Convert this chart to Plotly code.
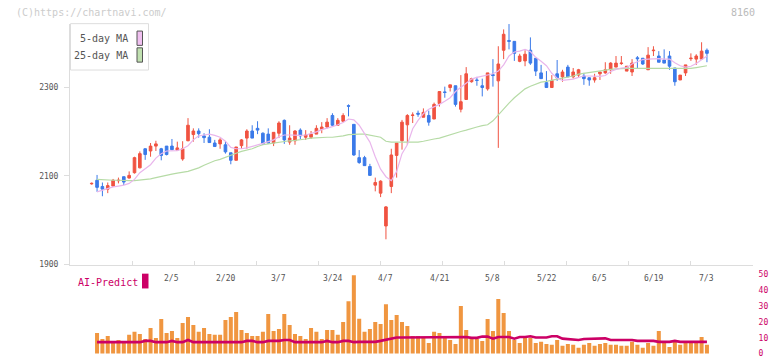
import plotly.graph_objects as go

# ---------------- data ----------------
tick_labels = ['2/5', '2/20', '3/7', '3/24', '4/7', '4/21', '5/8', '5/22', '6/5', '6/19', '7/3']
tick_index = [15, 25, 35, 45, 55, 65, 75, 85, 95, 105, 115]

open_ = [2082, 2090, 2076, 2070, 2077, 2089, 2098, 2095, 2107, 2118,
         2161, 2156, 2167, 2161, 2167, 2167, 2158, 2138, 2179, 2193,
         2201, 2190, 2187, 2174, 2172, 2170, 2152, 2135, 2168, 2185,
         2201, 2207, 2196, 2194, 2174, 2196, 2225, 2176, 2179, 2203,
         2187, 2187, 2194, 2205, 2210, 2236, 2214, 2223, 2258, 2216,
         2141, 2141, 2121, 2079, 2061, 1987, 2076, 2146, 2179, 2215,
         2236, 2241, 2232, 2236, 2228, 2263, 2289, 2299, 2303, 2250,
         2272, 2312, 2316, 2303, 2296, 2328, 2314, 2383, 2405, 2403,
         2358, 2359, 2383, 2365, 2332, 2310, 2299, 2330, 2323, 2345,
         2323, 2327, 2325, 2321, 2316, 2330, 2332, 2339, 2345, 2353,
         2336, 2334, 2366, 2365, 2339, 2382, 2370, 2361, 2370, 2343,
         2316, 2332, 2364, 2363, 2363, 2383]
high = [2085, 2102, 2085, 2085, 2093, 2096, 2098, 2110, 2143, 2155,
        2162, 2174, 2179, 2163, 2167, 2183, 2177, 2178, 2230, 2207,
        2207, 2196, 2205, 2181, 2185, 2178, 2152, 2165, 2183, 2205,
        2214, 2223, 2198, 2207, 2198, 2223, 2227, 2214, 2203, 2207,
        2203, 2201, 2214, 2221, 2230, 2241, 2230, 2241, 2261, 2216,
        2158, 2145, 2127, 2096, 2090, 2032, 2161, 2174, 2226, 2239,
        2243, 2247, 2252, 2247, 2265, 2290, 2301, 2305, 2303, 2327,
        2345, 2321, 2323, 2319, 2332, 2363, 2392, 2430, 2442, 2403,
        2375, 2383, 2412, 2365, 2350, 2336, 2327, 2361, 2339, 2350,
        2343, 2341, 2332, 2321, 2330, 2334, 2356, 2356, 2370, 2370,
        2347, 2363, 2370, 2365, 2390, 2392, 2381, 2385, 2381, 2343,
        2327, 2350, 2376, 2374, 2401, 2387]
low = [2080, 2064, 2054, 2061, 2075, 2083, 2079, 2094, 2105, 2117,
       2136, 2143, 2156, 2135, 2146, 2159, 2157, 2134, 2178, 2177,
       2186, 2174, 2174, 2166, 2161, 2150, 2126, 2135, 2161, 2161,
       2185, 2194, 2170, 2172, 2167, 2185, 2172, 2170, 2170, 2183,
       2181, 2183, 2194, 2196, 2207, 2212, 2214, 2221, 2234, 2145,
       2127, 2123, 2101, 2065, 2052, 1957, 2061, 2096, 2159, 2170,
       2219, 2233, 2232, 2213, 2228, 2256, 2276, 2290, 2256, 2243,
       2272, 2310, 2303, 2279, 2292, 2301, 2163, 2363, 2385, 2359,
       2356, 2347, 2350, 2325, 2319, 2299, 2299, 2314, 2312, 2323,
       2319, 2321, 2305, 2303, 2310, 2316, 2330, 2330, 2345, 2350,
       2336, 2325, 2341, 2350, 2339, 2370, 2356, 2354, 2339, 2303,
       2316, 2325, 2359, 2350, 2363, 2356]
close = [2083, 2074, 2070, 2078, 2090, 2090, 2086, 2101, 2141, 2150,
         2148, 2167, 2172, 2146, 2148, 2159, 2163, 2161, 2214, 2201,
         2195, 2186, 2175, 2166, 2181, 2154, 2135, 2165, 2181, 2201,
         2185, 2203, 2172, 2174, 2198, 2219, 2181, 2185, 2201, 2190,
         2192, 2194, 2207, 2210, 2221, 2214, 2225, 2236, 2257, 2147,
         2130, 2123, 2101, 2085, 2088, 2030, 2147, 2174, 2221, 2236,
         2237, 2239, 2243, 2221, 2261, 2290, 2288, 2305, 2261, 2267,
         2330, 2319, 2315, 2299, 2332, 2326, 2352, 2419, 2403, 2376,
         2370, 2374, 2354, 2336, 2319, 2299, 2315, 2321, 2334, 2323,
         2334, 2339, 2319, 2316, 2321, 2334, 2339, 2354, 2354, 2354,
         2347, 2354, 2364, 2352, 2372, 2383, 2356, 2354, 2347, 2312,
         2327, 2350, 2365, 2370, 2381, 2376]

ma5 = [None, 2064, 2068, 2071, 2075, 2077, 2079, 2083, 2092, 2107,
       2117, 2125, 2140, 2150, 2156, 2157, 2157, 2161, 2168, 2181,
       2190, 2192, 2194, 2191, 2187, 2178, 2164, 2161, 2161, 2163,
       2166, 2169, 2173, 2177, 2181, 2188, 2192, 2192, 2191, 2191,
       2192, 2195, 2199, 2204, 2207, 2211, 2215, 2220, 2228, 2226,
       2214, 2196, 2176, 2143, 2115, 2098, 2089, 2110, 2150, 2170,
       2206, 2225, 2240, 2250, 2255, 2261, 2268, 2276, 2290, 2300,
       2310, 2318, 2322, 2325, 2327, 2330, 2336, 2350, 2370, 2379,
       2381, 2385, 2380, 2367, 2358, 2348, 2331, 2320, 2315, 2316,
       2318, 2322, 2325, 2325, 2324, 2324, 2326, 2335, 2340, 2343,
       2344, 2352, 2357, 2362, 2363, 2364, 2364, 2363, 2363, 2355,
       2348, 2345, 2347, 2353, 2362, 2370]
ma25 = [None, 2092, 2091, 2091, 2090, 2090, 2089, 2089, 2089, 2090,
        2091, 2093, 2096, 2099, 2102, 2104, 2106, 2108, 2110, 2114,
        2118, 2124, 2129, 2134, 2137, 2142, 2147, 2151, 2155, 2158,
        2161, 2166, 2170, 2172, 2174, 2176, 2178, 2179, 2180, 2181,
        2183, 2185, 2186, 2187, 2187, 2187, 2188, 2190, 2193, 2194,
        2194, 2194, 2192, 2190, 2187, 2178, 2176, 2176, 2176, 2176,
        2176, 2176, 2178, 2181, 2183, 2185, 2189, 2192, 2196, 2200,
        2203, 2207, 2210, 2213, 2215, 2224, 2238, 2252, 2264, 2276,
        2286, 2296, 2302, 2307, 2311, 2313, 2316, 2318, 2320, 2322,
        2325, 2329, 2331, 2333, 2335, 2337, 2339, 2340, 2341, 2342,
        2342, 2342, 2342, 2342, 2342, 2342, 2342, 2341, 2341, 2341,
        2341, 2341, 2342, 2344, 2346, 2348]

volume = [None, 13.0, 9.2, 11.1, 7.4, 8.6, 7.4, 11.8, 13.7, 12.4,
          9.2, 16.2, 9.9, 21.8, 13.0, 14.3, 9.9, 19.3, 23.1, 18.1,
          13.7, 16.2, 12.4, 11.8, 11.8, 21.2, 23.1, 26.2, 14.9, 13.0,
          11.1, 11.1, 13.7, 25.0, 14.3, 15.5, 25.0, 18.1, 12.4, 11.1,
          9.2, 16.2, 13.7, 9.2, 14.9, 14.9, 11.8, 19.9, 33.1, 49.5,
          22.0, 13.7, 15.5, 19.9, 18.6, 31.2, 21.2, 24.4, 19.9, 17.4,
          11.1, 11.1, 9.9, 6.7, 13.7, 13.0, 9.9, 8.6, 6.1, 30.0,
          14.9, 10.5, 9.2, 8.0, 21.8, 14.3, 34.4, 25.6, 14.3, 8.6,
          6.7, 10.5, 9.9, 6.7, 7.4, 6.1, 5.5, 8.6, 4.9, 6.1,
          5.5, 3.6, 5.5, 6.7, 4.9, 6.1, 6.7, 5.5, 5.5, 4.9,
          4.9, 7.4, 5.5, 3.6, 6.7, 4.9, 14.3, 7.4, 4.2, 8.6,
          5.5, 6.7, 6.7, 6.7, 10.5, 5.5]
ai_predict = [None, 7.2, 7.2, 7.2, 7.2, 7.2, 7.2, 7.2, 7.2, 7.2,
              8.0, 8.0, 7.2, 7.2, 7.2, 8.0, 7.2, 7.2, 8.6, 7.2,
              7.2, 7.2, 7.2, 7.2, 7.2, 7.2, 7.2, 7.2, 7.2, 8.0,
              8.0, 7.2, 7.2, 8.0, 8.0, 8.0, 8.6, 8.6, 7.2, 7.2,
              7.2, 7.2, 7.2, 7.2, 8.0, 7.2, 7.2, 8.0, 8.0, 7.2,
              7.4, 7.4, 7.4, 7.4, 8.0, 8.6, 9.4, 10.1, 10.1, 10.1,
              10.1, 10.1, 10.1, 10.1, 10.1, 10.1, 10.5, 10.5, 10.5, 10.5,
              10.5, 9.9, 9.9, 10.7, 10.7, 9.4, 10.5, 10.5, 10.5, 9.4,
              10.5, 10.5, 10.9, 10.1, 10.1, 10.1, 10.9, 10.9, 9.4, 9.0,
              8.6, 8.6, 9.2, 9.2, 9.6, 9.6, 9.6, 8.6, 8.6, 8.6,
              8.6, 8.6, 8.0, 8.0, 8.0, 8.0, 7.4, 7.4, 7.4, 8.0,
              7.4, 7.4, 7.4, 7.4, 7.4, 7.4]

y_ticks_ai = [0, 10, 20, 30, 40, 50]

# ---------------- styling / geometry ----------------
W, H = 772, 361
L, R = 70, 19
FONT = "DejaVu Sans Mono"
RED, BLUE = "#F05341", "#3B7AE9"
PINK, GREEN = "#E9B6EC", "#B6DBA6"
ORANGE, MAGENTA = "#F09640", "#CC0066"

px_per_day = 5.35
first_px = 91.7
x_lo = -(first_px - L) / px_per_day
x_hi = x_lo + (W - L - R) / px_per_day

def pxx(p):
    return (p - L) / (W - L - R)

def pxy(p):
    return (H - p) / H

idx = list(range(len(close)))

# evenly spaced tick marks along the bottom axis (11 segments)
seg = (752.7 - 71.0) / 11
grid_ticks = [(71.0 + k * seg - first_px) / px_per_day for k in range(12)]

fig = go.Figure()

fig.add_trace(go.Scatter(x=idx, y=ma25, mode='lines', line=dict(color=GREEN, width=1.2),
                         xaxis='x', yaxis='y', showlegend=False, hoverinfo='skip'))
fig.add_trace(go.Scatter(x=idx, y=ma5, mode='lines', line=dict(color=PINK, width=1.2),
                         xaxis='x', yaxis='y', showlegend=False, hoverinfo='skip'))
fig.add_trace(go.Candlestick(
    x=idx, open=open_, high=high, low=low, close=close,
    increasing=dict(line=dict(color=RED, width=1), fillcolor=RED),
    decreasing=dict(line=dict(color=BLUE, width=1), fillcolor=BLUE),
    whiskerwidth=0, xaxis='x', yaxis='y', showlegend=False))

fig.add_trace(go.Bar(x=idx, y=volume, width=0.75, marker=dict(color=ORANGE, line=dict(width=0)),
                     xaxis='x2', yaxis='y2', showlegend=False))
fig.add_trace(go.Scatter(x=idx, y=ai_predict, mode='lines', line=dict(color=MAGENTA, width=2.6),
                         xaxis='x2', yaxis='y2', showlegend=False))

main_bottom, main_top = 268.3, 24.0
y_lo = 1900
y_hi = 1900 + (main_bottom - main_top) * (200 / 90.0)

sub_top = 273.0
zero_px = 358.5
per_unit = (358.5 - 278.3) / 50
y2_lo = -(H - zero_px) / per_unit
y2_hi = (zero_px - sub_top) / per_unit

fig.update_layout(
    width=W, height=H,
    margin=dict(l=L, r=R, t=0, b=0, pad=0),
    paper_bgcolor='white', plot_bgcolor='white',
    showlegend=False,
    xaxis=dict(domain=[0, 1], range=[x_lo, x_hi], anchor='y',
               showline=True, linecolor='#dddddd', linewidth=1,
               ticks='inside', ticklen=4, tickcolor='#dddddd', tickwidth=1,
               tickvals=grid_ticks, showticklabels=False,
               showgrid=False, zeroline=False, rangeslider=dict(visible=False)),
    yaxis=dict(domain=[pxy(main_bottom), pxy(main_top)], range=[y_lo, y_hi], anchor='x',
               showline=True, linecolor='#dddddd', linewidth=1,
               ticks='outside', ticklen=5, tickcolor='#dddddd',
               tick0=1900, dtick=200, showgrid=False, zeroline=False,
               ticklabelstandoff=4,
               tickfont=dict(family=FONT, size=8, color='#555555')),
    xaxis2=dict(domain=[0, 1], range=[x_lo, x_hi], anchor='y2', visible=False),
    yaxis2=dict(domain=[0, pxy(sub_top)], range=[y2_lo, y2_hi], anchor='x2', side='right',
                tickvals=y_ticks_ai, showline=False, showgrid=False, zeroline=False,
                ticks='outside', ticklen=3, tickcolor='rgba(0,0,0,0)',
                tickfont=dict(family=FONT, size=8, color=MAGENTA)),
)

ann = []
for lab, i in zip(tick_labels, tick_index):
    ann.append(dict(x=i, y=pxy(282), xref='x', yref='paper', text=lab, showarrow=False,
                    xanchor='center', yanchor='middle',
                    font=dict(family=FONT, size=8, color='#555555')))
ann.append(dict(x=pxx(14), y=pxy(12.5), xref='paper', yref='paper', text='(C)https://chartnavi.com/',
                showarrow=False, xanchor='left', yanchor='middle',
                font=dict(family=FONT, size=10, color='#cccccc')))
ann.append(dict(x=pxx(757), y=pxy(12.5), xref='paper', yref='paper', text='8160',
                showarrow=False, xanchor='right', yanchor='middle',
                font=dict(family=FONT, size=10, color='#bbbbbb')))
ann.append(dict(x=pxx(129.5), y=pxy(39.5), xref='paper', yref='paper', text='5-day MA',
                showarrow=False, xanchor='right', yanchor='middle',
                font=dict(family=FONT, size=10, color='#555555')))
ann.append(dict(x=pxx(129.5), y=pxy(56.5), xref='paper', yref='paper', text='25-day MA',
                showarrow=False, xanchor='right', yanchor='middle',
                font=dict(family=FONT, size=10, color='#555555')))
ann.append(dict(x=pxx(76), y=pxy(286), xref='paper', yref='paper', text='AI-Predict',
                showarrow=False, xanchor='left', yanchor='middle',
                font=dict(family=FONT, size=10, color=MAGENTA)))

shapes = [
    dict(type='rect', xref='paper', yref='paper', x0=pxx(70.5), x1=pxx(148.5), y0=pxy(71), y1=pxy(24),
         line=dict(color='#dddddd', width=1), fillcolor='white', layer='below'),
    dict(type='rect', xref='paper', yref='paper', x0=pxx(137), x1=pxx(142.5), y0=pxy(46), y1=pxy(31.5),
         line=dict(color='#555555', width=1), fillcolor='#F0C0F0'),
    dict(type='rect', xref='paper', yref='paper', x0=pxx(137), x1=pxx(142.5), y0=pxy(63), y1=pxy(48.5),
         line=dict(color='#555555', width=1), fillcolor='#C0E0B0'),
    dict(type='rect', xref='paper', yref='paper', x0=pxx(142), x1=pxx(148.5), y0=pxy(292.5), y1=pxy(277.5),
         line=dict(width=0), fillcolor=MAGENTA),
]

fig.update_layout(annotations=ann, shapes=shapes)
fig.write_html("out.html",
               config={'displayModeBar': False},
               post_script="document.body.style.margin='0';document.body.style.padding='0';"
                           "document.body.style.overflow='hidden';")
